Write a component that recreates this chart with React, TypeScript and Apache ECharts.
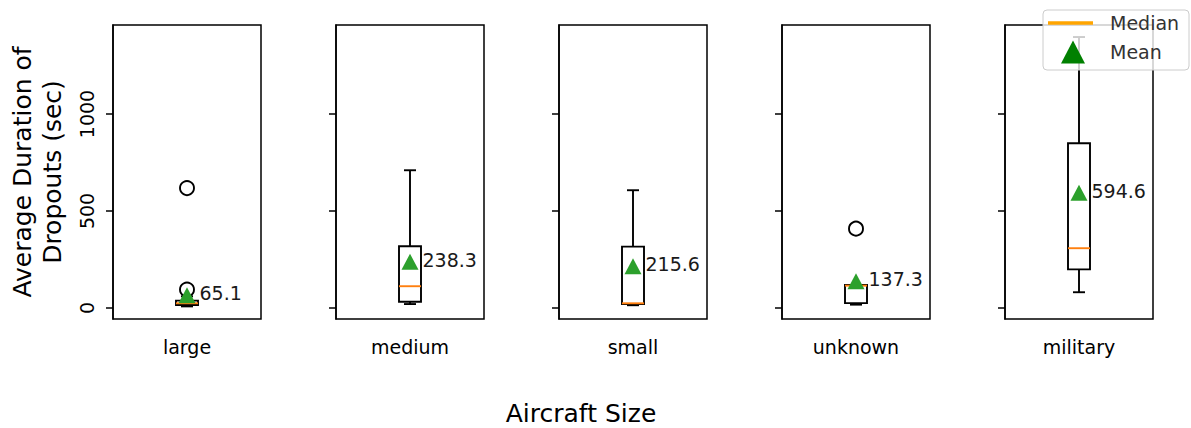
import React, { useEffect, useRef } from "react";
import * as echarts from "echarts";

const categories = ["large", "medium", "small", "unknown", "military"];
const whiskerLow = [8, 20, 14, 17, 81];
const quartile1 = [15, 32, 20, 25, 199];
const medians = [24, 112, 24, 115, 308];
const quartile3 = [38, 318, 316, 118, 849];
const whiskerHigh = [60, 710, 607, 118, 1397];
const means = [65.1, 238.3, 215.6, 137.3, 594.6];
const outliers = [[618, 95], [], [], [409], []];
const yTicks = [0, 500, 1000];
const yMin = -57;
const yMax = 1459;

const FONT = "DejaVu Sans";
const gridLefts = [113, 336, 559, 782, 1005];
const gridWidth = 148;
const gridTop = 25;
const gridHeight = 294;

function renderBox(params: any, api: any) {
  const x = api.value(0);
  const lo = api.coord([x, api.value(1)]);
  const a = api.coord([x, api.value(2)]);
  const m = api.coord([x, api.value(3)]);
  const b = api.coord([x, api.value(4)]);
  const hi = api.coord([x, api.value(5)]);
  const cx = lo[0];
  const half = 11;
  const cap = 6;
  const black = { stroke: "#000", lineWidth: 1.9, fill: "none" };
  return {
    type: "group",
    children: [
      { type: "rect", shape: { x: cx - half, y: b[1], width: half * 2, height: a[1] - b[1] }, style: { ...black, fill: "rgba(0,0,0,0)" } },
      { type: "line", shape: { x1: cx, y1: a[1], x2: cx, y2: lo[1] }, style: black },
      { type: "line", shape: { x1: cx, y1: b[1], x2: cx, y2: hi[1] }, style: black },
      { type: "line", shape: { x1: cx - cap, y1: lo[1], x2: cx + cap, y2: lo[1] }, style: black },
      { type: "line", shape: { x1: cx - cap, y1: hi[1], x2: cx + cap, y2: hi[1] }, style: black },
      { type: "line", shape: { x1: cx - half, y1: m[1], x2: cx + half, y2: m[1] }, style: { stroke: "#ff7f0e", lineWidth: 1.9 } },
    ],
  };
}

export default function App() {
  const ref = useRef<HTMLDivElement>(null);
  useEffect(() => {
    const chart = echarts.init(ref.current!, null, { renderer: "svg" });
    const grids = categories.map((_, i) => ({
      left: gridLefts[i],
      top: gridTop,
      width: gridWidth,
      height: gridHeight,
      show: true,
      borderColor: "#000",
      borderWidth: 1.5,
      backgroundColor: "rgba(0,0,0,0)",
    }));
    const xAxes = categories.map((c, i) => ({
      type: "category",
      gridIndex: i,
      data: [c],
      axisLine: { show: false },
      axisTick: { show: false },
      splitLine: { show: false },
      axisLabel: { fontSize: 19, fontFamily: FONT, color: "#000", margin: 18 },
    }));
    const yAxes = categories.map((_, i) => ({
      type: "value",
      gridIndex: i,
      min: yMin,
      max: yMax,
      splitLine: { show: false },
      axisLine: { show: true, lineStyle: { color: "#000", width: 1.5 } },
      axisTick: { show: true, customValues: yTicks, length: 7, lineStyle: { color: "#000", width: 1.5 } },
      axisLabel: {
        show: i === 0,
        customValues: yTicks,
        rotate: 90,
        fontSize: 19,
        fontFamily: FONT,
        color: "#000",
        margin: 17,
        formatter: (v: number) => String(v),
      },
      ...(i === 0
        ? {
            name: "Average Duration of\nDropouts (sec)",
            nameLocation: "middle",
            nameRotate: 90,
            nameGap: 46,
            nameTextStyle: { fontSize: 25, fontFamily: FONT, color: "#000", lineHeight: 30 },
          }
        : {}),
    }));
    const series: any[] = [];
    categories.forEach((_, i) => {
      series.push({
        type: "custom",
        xAxisIndex: i,
        yAxisIndex: i,
        renderItem: renderBox,
        encode: { x: 0, y: [1, 2, 3, 4, 5] },
        data: [[0, whiskerLow[i], quartile1[i], medians[i], quartile3[i], whiskerHigh[i]]],
        z: 2,
      });
      series.push({
        type: "scatter",
        xAxisIndex: i,
        yAxisIndex: i,
        symbol: "circle",
        symbolSize: 14,
        itemStyle: { color: "rgba(0,0,0,0)", borderColor: "#000", borderWidth: 1.9, opacity: 1 },
        data: outliers[i].map((v) => [0, v]),
        z: 3,
      });
      series.push({
        type: "scatter",
        xAxisIndex: i,
        yAxisIndex: i,
        symbol: "triangle",
        symbolSize: [17, 16],
        itemStyle: { color: "#2ca02c", opacity: 1 },
        label: {
          show: true,
          position: "right",
          distance: 4,
          offset: [0, -2],
          fontSize: 19,
          fontFamily: FONT,
          color: "#1a1a1a",
          formatter: (p: any) => p.value[1].toFixed(1),
        },
        data: [[0, means[i]]],
        z: 4,
      });
    });
    chart.setOption({
      animation: false,
      backgroundColor: "#fff",
      grid: grids,
      xAxis: xAxes,
      yAxis: yAxes,
      series,
      graphic: [
        {
          type: "text",
          x: 581,
          y: 413,
          style: { text: "Aircraft Size", font: `25px ${FONT}`, fill: "#000", textAlign: "center", textVerticalAlign: "middle" },
        },
        {
          type: "group",
          z: 100,
          children: [
            {
              type: "rect",
              shape: { x: 1043, y: 10, width: 146, height: 60, r: 4 },
              style: { fill: "rgba(255,255,255,0.8)", stroke: "#cccccc", lineWidth: 1 },
              z: 100,
            },
            { type: "line", shape: { x1: 1048, y1: 23, x2: 1093, y2: 23 }, style: { stroke: "#ffa500", lineWidth: 3.5 }, z: 101 },
            { type: "polygon", shape: { points: [[1061, 63.5], [1085, 63.5], [1073, 40.5]] }, style: { fill: "#008000" }, z: 101 },
            { type: "text", x: 1110, y: 23, style: { text: "Median", font: `19px ${FONT}`, fill: "#333", textVerticalAlign: "middle" }, z: 101 },
            { type: "text", x: 1110, y: 52, style: { text: "Mean", font: `19px ${FONT}`, fill: "#333", textVerticalAlign: "middle" }, z: 101 },
          ],
        },
      ],
    });
    return () => chart.dispose();
  }, []);
  return <div ref={ref} style={{ position: "absolute", left: 0, top: 0, width: 1191, height: 428 }} />;
}
